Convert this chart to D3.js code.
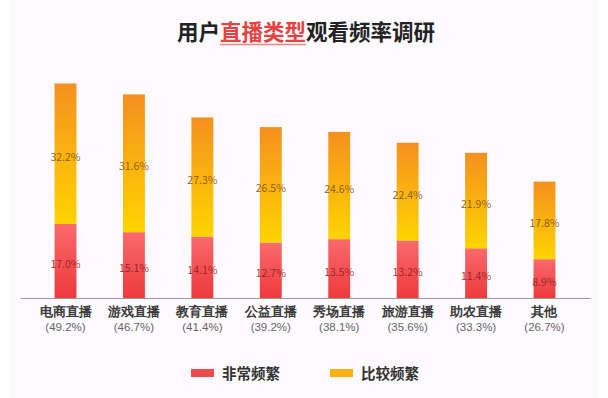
<!DOCTYPE html>
<html><head><meta charset="utf-8">
<script src="https://cdn.jsdelivr.net/npm/d3@7"></script>
<style>
html,body{margin:0;padding:0;background:#ffffff;}
svg{display:block;font-family:"Noto Sans CJK SC","Noto Sans",sans-serif;}
</style></head>
<body>
<svg id="chart" width="608" height="398"></svg>
<script>
const categories = ["电商直播","游戏直播","教育直播","公益直播","秀场直播","旅游直播","助农直播","其他"];
const veryFrequent = [17.0, 15.1, 14.1, 12.7, 13.5, 13.2, 11.4, 8.9];
const fairlyFrequent = [32.2, 31.6, 27.3, 26.5, 24.6, 22.4, 21.9, 17.8];
const totals = [49.2, 46.7, 41.4, 39.2, 38.1, 35.6, 33.3, 26.7];
const seriesNames = ["非常频繁","比较频繁"];
const titleParts = ["用户","直播类型","观看频率调研"];

const svg = d3.select("#chart");
svg.append("rect").attr("x",10).attr("y",0).attr("width",588).attr("height",398).attr("fill","#fcfafc");

const defs = svg.append("defs");
const gRed = defs.append("linearGradient").attr("id","gRed").attr("x1",0).attr("y1",0).attr("x2",0).attr("y2",1);
gRed.append("stop").attr("offset","0%").attr("stop-color","#fa6a6c");
gRed.append("stop").attr("offset","100%").attr("stop-color","#ee3a3d");
const gYel = defs.append("linearGradient").attr("id","gYel").attr("x1",0).attr("y1",0).attr("x2",0).attr("y2",1);
gYel.append("stop").attr("offset","0%").attr("stop-color","#f5901f");
gYel.append("stop").attr("offset","100%").attr("stop-color","#ffd400");

const x = d3.scaleBand().domain(categories).range([20,590]).paddingInner(0.68).paddingOuter(0.505);
const y = d3.scaleLinear().domain([0,50]).range([298,80]);

const rows = categories.map((c,i)=>({cat:c, a:veryFrequent[i], b:fairlyFrequent[i], t:totals[i]}));
const stack = d3.stack().keys(["a","b"])(rows);
const fills = ["url(#gRed)","url(#gYel)"];

stack.forEach((layer,li)=>{
  const g = svg.append("g");
  g.selectAll("rect").data(layer).join("rect")
    .attr("x",d=>x(d.data.cat))
    .attr("width",x.bandwidth())
    .attr("y",d=>y(d[1]))
    .attr("height",d=>y(d[0])-y(d[1]))
    .attr("fill",fills[li]);
  g.selectAll("text").data(layer).join("text")
    .attr("x",d=>x(d.data.cat)+x.bandwidth()/2)
    .attr("y",d=>(y(d[0])+y(d[1]))/2+7)
    .attr("text-anchor","middle")
    .attr("font-size","10.5px")
    .attr("fill", li===0 ? "#8e1f24" : "#7a5414")
    .attr("fill-opacity",0.9)
    .text(d=>(d[1]-d[0]).toFixed(1)+"%");
});

const axis = svg.append("g").attr("transform","translate(0,298)")
  .call(d3.axisBottom(x).tickSize(0).tickSizeOuter(0).tickFormat(""));
axis.select(".domain").attr("stroke","#9a9a9a");
axis.selectAll(".tick").each(function(d,i){
  const t = d3.select(this);
  t.append("text").attr("y",18).attr("text-anchor","middle").attr("font-size","13px")
    .attr("font-weight","bold").attr("fill","#3a3a3a").text(d);
  t.append("text").attr("y",33).attr("text-anchor","middle").attr("font-size","11.5px")
    .attr("fill","#666").text("("+totals[i].toFixed(1)+"%)");
});

// title
const title = svg.append("text").attr("x",306).attr("y",40).attr("text-anchor","middle")
  .attr("font-size","21.5px").attr("font-weight","bold");
title.append("tspan").attr("fill","#222").text(titleParts[0]);
title.append("tspan").attr("fill","#e8413f").text(titleParts[1]);
title.append("tspan").attr("fill","#222").text(titleParts[2]);
const tn = title.node();
const s = tn.getStartPositionOfChar(2).x;
const e = tn.getEndPositionOfChar(5).x;
svg.append("line").attr("x1",s).attr("x2",e).attr("y1",44.5).attr("y2",44.5)
  .attr("stroke","#ef8585").attr("stroke-width",1.5);

// legend
const legendX = [191, 330];
const legFills = ["#ee4a4d","#fcb012"];
seriesNames.forEach((n,i)=>{
  svg.append("rect").attr("x",legendX[i]).attr("y",369).attr("width",23).attr("height",8)
    .attr("fill",legFills[i]);
  svg.append("text").attr("x",legendX[i]+31).attr("y",378.5).attr("font-size","14.5px")
    .attr("font-weight","bold").attr("fill","#333").text(n);
});
</script>
</body></html>
